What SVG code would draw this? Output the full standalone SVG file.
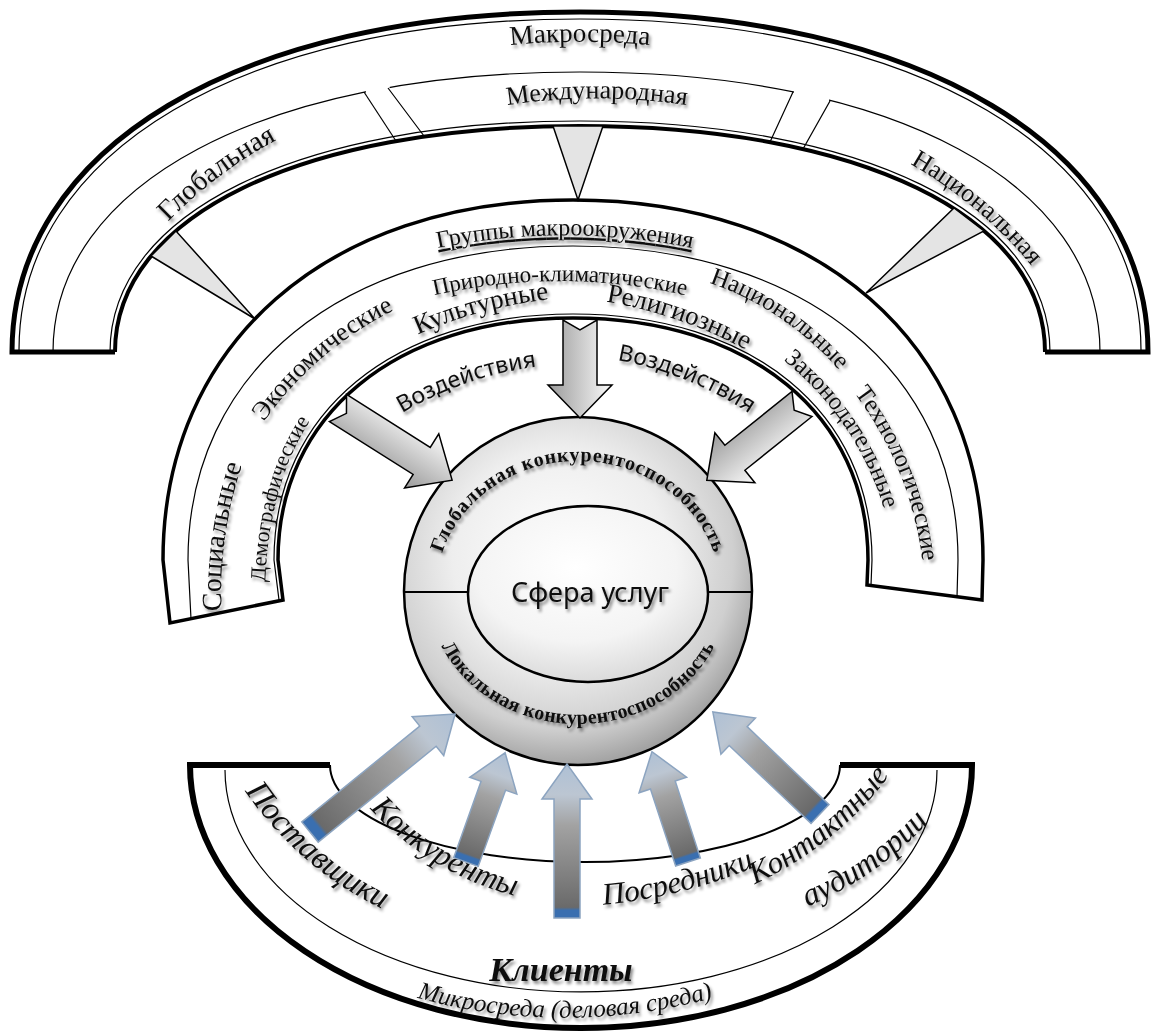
<svg xmlns="http://www.w3.org/2000/svg" width="1156" height="1032" viewBox="0 0 1156 1032">
<defs>
<style>
.t{font-family:"Liberation Serif","Times New Roman",serif;fill:#111;filter:url(#sh)}
.it{font-style:italic}
.b{font-weight:bold}
.ss{font-family:"Noto Sans","Open Sans","Liberation Sans",sans-serif}
.thin{fill:none;stroke:#000;stroke-width:1.2}
.edge{fill:none;stroke:#000}
.tri{fill:#e4e4e4;stroke:#000;stroke-width:1.5;stroke-linejoin:miter}
.ga{stroke:#000;stroke-width:1.5;stroke-linejoin:miter}
.ba{fill:url(#gBlue);stroke:#8ca4c0;stroke-width:1.5;stroke-linejoin:miter}
</style>
<filter id="sh" x="-20%" y="-40%" width="140%" height="180%"><feDropShadow dx="2" dy="3" stdDeviation="1.6" flood-color="#000" flood-opacity="0.45"/></filter>
<radialGradient id="gCircle" cx="0.45" cy="0.4" r="0.62"><stop offset="0" stop-color="#ffffff"/><stop offset="0.5" stop-color="#eeeeee"/><stop offset="0.8" stop-color="#cfcfcf"/><stop offset="1" stop-color="#9c9c9c"/></radialGradient>
<radialGradient id="gInner" cx="0.45" cy="0.35" r="0.7"><stop offset="0" stop-color="#ffffff"/><stop offset="0.6" stop-color="#f4f4f4"/><stop offset="1" stop-color="#d6d6d6"/></radialGradient>
<linearGradient id="gGray" x1="0" y1="0" x2="0" y2="1"><stop offset="0" stop-color="#fafafa"/><stop offset="1" stop-color="#9a9a9a"/></linearGradient>
<linearGradient id="gBlue" x1="0" y1="0" x2="1" y2="0"><stop offset="0" stop-color="#3a6fb0"/><stop offset="0.05" stop-color="#3a6fb0"/><stop offset="0.07" stop-color="#6a6a6a"/><stop offset="0.6" stop-color="#a2a2a2"/><stop offset="0.8" stop-color="#bcc6d2"/><stop offset="1" stop-color="#aec0d5"/></linearGradient>
<path id="tpMakro" d="M460,52 A700 700 0 0 1 700,52"/>
<path id="tpIntl" d="M470,112 A600 600 0 0 1 724,112"/>
<path id="tpGlob" d="M152.8,238.1 A450 450 0 0 1 296.6,129.7"/>
<path id="tpNat" d="M900.7,158.5 A450 450 0 0 1 1038.5,274.3"/>
<path id="tpGroups" d="M400,257 A640 640 0 0 1 730,257"/>
<path id="tpPrir" d="M405,303 A560 560 0 0 1 715,303"/>
<path id="tpSoc" d="M222.7,627.5 A400 400 0 0 1 247.7,449.3"/>
<path id="tpDem" d="M265,615 Q262,470 330,395"/>
<path id="tpEcon" d="M250,443 A350 350 0 0 1 417,299.8"/>
<path id="tpKult" d="M397.5,344.1 A450 450 0 0 1 571.3,297.5"/>
<path id="tpRel" d="M589.9,299.3 A450 450 0 0 1 760.1,357.9"/>
<path id="tpNac" d="M697.7,279.1 A300 300 0 0 1 846.9,379.7"/>
<path id="tpZak" d="M766.3,347.4 A300 300 0 0 1 889.3,529.8"/>
<path id="tpTech" d="M838.3,373.3 A350 350 0 0 1 924.7,586.5"/>
<path id="tpVozL" d="M390,420.6 A350 350 0 0 1 550.8,365.2"/>
<path id="tpVozR" d="M603.3,357.8 A350 350 0 0 1 760.9,421.6"/>
<path id="tpGK" d="M436,591 A142 130 0 0 1 720,591"/>
<path id="tpLK" d="M428,591 A150 133 0 0 0 728,591"/>
<path id="tpPost" d="M228.8,764.7 A350 350 0 0 0 410.8,921.1"/>
<path id="tpKonk" d="M346.5,778.8 A290 290 0 0 0 552.1,902.4"/>
<path id="tpPosr" d="M565.6,906.4 A500 500 0 0 0 788.8,850.8"/>
<path id="tpKont" d="M742.1,889.6 A350 350 0 0 0 897.5,763.8"/>
<path id="tpAud" d="M787.3,914.4 A350 350 0 0 0 942.9,805.4"/>
<path id="tpMicro" d="M385,988 A560 560 0 0 0 745,988"/>
</defs>
<rect width="1156" height="1032" fill="#fff"/>

<g id="macro">
<path d="M12,352 C12,148 239,12 580,12 C921,12 1148,148 1148,352 L1045,352 C1045,216 859,126 580,126 C301,126 115,216 115,352 Z" fill="#fff" stroke="none"/>
<path class="thin" d="M53,352 C53,184 264,72 580,72 C896,72 1100,184 1100,352"/>
<polygon points="366,78 389,74 390,96 366,100" fill="#fff"/>
<polygon points="794,80 829,88 829,110 794,102" fill="#fff"/>
<path class="thin" d="M19,350 C19,152 243,19 580,19 C917,19 1141,152 1141,350"/>
<path class="thin" d="M110,352 C110,213 298,121 580,121 C862,121 1050,213 1050,352"/>
<path class="edge" stroke-width="4" d="M115,352 C115,216 301,126 580,126 C859,126 1045,216 1045,352"/>
<path class="edge" stroke-width="5" d="M115,352 L12,352 C12,148 239,12 580,12 C921,12 1148,148 1148,352 L1045,352"/>
<text class="t" font-size="27"><textPath href="#tpMakro" startOffset="50%" text-anchor="middle">Макросреда</textPath></text>
</g>

<g id="global">
<path class="thin" d="M364,92 L396,141"/>
<text class="t" font-size="28"><textPath href="#tpGlob" startOffset="50%" text-anchor="middle">Глобальная</textPath></text>
</g>
<g id="international">
<path class="thin" d="M388,88 L424,136 M793,92 L770,142"/>
<text class="t" font-size="26"><textPath href="#tpIntl" startOffset="50%" text-anchor="middle">Международная</textPath></text>
</g>
<g id="national">
<path class="thin" d="M830,101 L803,149"/>
<text class="t" font-size="26"><textPath href="#tpNat" startOffset="50%" text-anchor="middle">Национальная</textPath></text>
</g>

<g id="groups">
<path d="M170,623 L163,560 C163,344 327,200 573,200 C819,200 983,344 983,560 L982,600 L867,585 L868,560 C868,415 750,318 573,318 C396,318 278,415 278,560 L283,600 Z" fill="#fff" stroke="#000" stroke-width="3.5"/>
<path class="thin" d="M191,619 L188,560 C188,372 342,246 573,246 C804,246 958,372 958,560 L957,597"/>
<path class="thin" d="M279,600 L274,560 C274,412 394,314 573,314 C752,314 872,412 872,560 L871,585"/>
<text class="t" font-size="24" text-decoration="underline"><textPath href="#tpGroups" startOffset="50%" text-anchor="middle">Группы макроокружения</textPath></text>
<text class="t" font-size="23"><textPath href="#tpPrir" startOffset="50%" text-anchor="middle">Природно-климатические</textPath></text>
<text class="t" font-size="28"><textPath href="#tpSoc" startOffset="50%" text-anchor="middle">Социальные</textPath></text>
<text class="t" font-size="22"><textPath href="#tpDem" startOffset="50%" text-anchor="middle">Демографические</textPath></text>
<text class="t" font-size="26"><textPath href="#tpEcon" startOffset="50%" text-anchor="middle">Экономические</textPath></text>
<text class="t" font-size="27"><textPath href="#tpKult" startOffset="50%" text-anchor="middle">Культурные</textPath></text>
<text class="t" font-size="27"><textPath href="#tpRel" startOffset="50%" text-anchor="middle">Религиозные</textPath></text>
<text class="t" font-size="25"><textPath href="#tpNac" startOffset="50%" text-anchor="middle">Национальные</textPath></text>
<text class="t" font-size="25"><textPath href="#tpZak" startOffset="50%" text-anchor="middle">Законодательные</textPath></text>
<text class="t" font-size="25"><textPath href="#tpTech" startOffset="50%" text-anchor="middle">Технологические</textPath></text>
<text class="t ss" font-size="23"><textPath href="#tpVozL" startOffset="50%" text-anchor="middle">Воздействия</textPath></text>
<text class="t ss" font-size="23"><textPath href="#tpVozR" startOffset="50%" text-anchor="middle">Воздействия</textPath></text>
</g>

<g id="services">
<circle cx="578" cy="591" r="174" fill="url(#gCircle)" stroke="#000" stroke-width="2.5"/>
<ellipse cx="588" cy="594" rx="120" ry="88" fill="url(#gInner)" stroke="#000" stroke-width="2.5"/>
<path class="edge" stroke-width="2" d="M404,592 L468,592 M708,592 L752,592"/>
<text class="t ss" font-size="27" x="590" y="602" text-anchor="middle">Сфера услуг</text>
<text class="t b" font-size="20"><textPath href="#tpGK" startOffset="50%" text-anchor="middle" textLength="350">Глобальная конкурентоспособность</textPath></text>
<text class="t b" font-size="20"><textPath href="#tpLK" startOffset="50%" text-anchor="middle" textLength="330">Локальная конкурентоспособность</textPath></text>
</g>

<g id="micro">
<path d="M190,765 L330,765 A255 97 0 0 0 840,765 L972,765 A391 263 0 0 1 190,765 Z" fill="#fff" stroke="none"/>
<path class="thin" d="M225,770 A356 222 0 0 0 937,770"/>
<path class="edge" stroke-width="2" d="M330,765 A255 97 0 0 0 840,765"/>
<path class="edge" stroke-width="6" d="M330,765 L190,765 A391 263 0 0 0 972,765 L840,765"/>
<text class="t it" font-size="33"><textPath href="#tpPost" startOffset="50%" text-anchor="middle">Поставщики</textPath></text>
<text class="t it" font-size="32"><textPath href="#tpKonk" startOffset="50%" text-anchor="middle">Конкуренты</textPath></text>
<text class="t it b" font-size="34" x="561" y="981" text-anchor="middle">Клиенты</text>
<text class="t it" font-size="31"><textPath href="#tpPosr" startOffset="50%" text-anchor="middle">Посредники</textPath></text>
<text class="t it" font-size="31"><textPath href="#tpKont" startOffset="50%" text-anchor="middle">Контактные</textPath></text>
<text class="t it" font-size="32"><textPath href="#tpAud" startOffset="50%" text-anchor="middle">аудитории</textPath></text>
<text class="t it" font-size="25"><textPath href="#tpMicro" startOffset="50%" text-anchor="middle">Микросреда (деловая среда)</textPath></text>
</g>

<g id="connectors">
<polygon class="tri" points="151,256 176,231 255,319"/>
<polygon class="tri" points="553,126 603,126 578,200"/>
<polygon class="tri" points="954,208 984,231 866,293"/>
<path class="ga" fill="url(#gGray)" transform="translate(580,320) rotate(90)" d="M0,-17 L65,-17 L65,-32 L98,0 L65,32 L65,17 L0,17 L10,0 Z"/>
<path class="ga" fill="url(#gGray)" transform="translate(338,408) rotate(32.3)" d="M0,-16 L99,-16 L99,-32 L135,0 L99,32 L99,16 L0,16 L10,0 Z"/>
<path class="ga" fill="url(#gGray)" transform="translate(802,404) rotate(141.3)" d="M0,-16 L86,-16 L86,-32 L122,0 L86,32 L86,16 L0,16 L10,0 Z"/>
<path class="ba" transform="translate(310,832) rotate(-39.1)" d="M0,-13 L152,-13 L152,-25 L187,0 L152,25 L152,13 L0,13 Z"/>
<path class="ba" transform="translate(466,862) rotate(-70.3)" d="M0,-13 L81,-13 L81,-25 L116,0 L81,25 L81,13 L0,13 Z"/>
<path class="ba" transform="translate(567,918) rotate(-90)" d="M0,-13 L119,-13 L119,-25 L154,0 L119,25 L119,13 L0,13 Z"/>
<path class="ba" transform="translate(688,862) rotate(-108.1)" d="M0,-13 L81,-13 L81,-25 L116,0 L81,25 L81,13 L0,13 Z"/>
<path class="ba" transform="translate(820,814) rotate(-136.4)" d="M0,-13 L113,-13 L113,-25 L148,0 L113,25 L113,13 L0,13 Z"/>
</g>
</svg>
